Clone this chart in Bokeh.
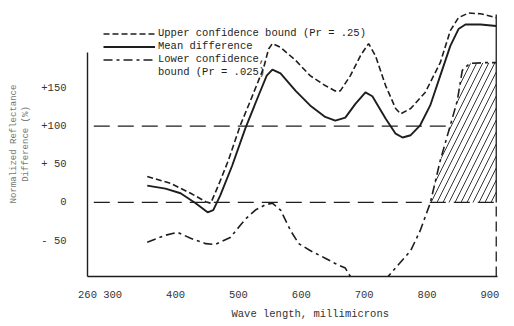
import numpy as np
from bokeh.plotting import figure
from bokeh.models import Legend, LegendItem, FixedTicker, Title
from bokeh.embed import file_html
from bokeh.resources import INLINE

# ---- data ----
mean_x = [355, 384, 408, 432, 451, 460, 471, 490, 511, 532, 545, 554, 567, 591, 614, 638, 654, 670, 686, 702, 713, 734, 750, 761, 774, 789, 805, 821, 837, 850, 861, 885, 910]
mean_y = [22, 18, 12, -1, -13, -10, 9, 48, 97, 140, 166, 174, 169, 146, 127, 112, 107, 111, 129, 144, 139, 110, 90, 85, 88, 101, 127, 166, 205, 227, 233, 233, 231]

upper_x = [355, 392, 424, 448, 456, 468, 484, 503, 519, 540, 548, 554, 567, 591, 614, 638, 654, 662, 678, 694, 707, 718, 734, 750, 758, 774, 797, 821, 837, 850, 866, 885, 910]
upper_y = [34, 25, 12, 1, -1, 22, 55, 101, 133, 176, 201, 208, 203, 186, 166, 153, 146, 146, 166, 192, 208, 192, 153, 123, 116, 123, 144, 183, 225, 242, 248, 247, 242]

lower_x = [355, 384, 403, 424, 448, 463, 487, 503, 511, 527, 543, 554, 567, 583, 596, 614, 638, 654, 670, 678, 700, 725, 737, 774, 789, 805, 821, 837, 848, 856, 868, 892, 910]
lower_y = [-52, -43, -39, -47, -54, -55, -46, -30, -22, -10, -3, -1, -10, -37, -54, -63, -73, -80, -86, -97, -115, -112, -98, -63, -37, -1, 55, 101, 133, 173, 182, 183, 183]

ref_levels = [0, 100]
ref_x_start = 270
ref100_x_end = 837
x_ticks = [260, 300, 400, 500, 600, 700, 800, 900]
y_ticks = [-50, 0, 50, 100, 150]
y_tick_labels = {-50: "- 50", 0: "0", 50: "+ 50", 100: "+100", 150: "+150"}
hatch_from = 805
right_edge = 910

INK = "#1e1e1e"
MONO = "Liberation Mono"

p = figure(width=514, height=326, output_backend="svg", toolbar_location=None,
           x_range=(260, 912), y_range=(-97, 250),
           min_border_left=87, min_border_right=17, min_border_top=11, min_border_bottom=50)
p.outline_line_color = None
p.grid.visible = False
p.background_fill_color = "white"

# hatched region between zero line and lower bound
lx = np.array(lower_x, dtype=float)
ly = np.array(lower_y, dtype=float)
m = lx >= hatch_from
p.varea(x=lx[m], y1=np.zeros(m.sum()), y2=ly[m], fill_color=None, fill_alpha=0,
        hatch_pattern="/", hatch_color=INK, hatch_weight=0.9, hatch_scale=12)

# reference dashed lines
p.line([ref_x_start, right_edge], [ref_levels[0], ref_levels[0]], line_color=INK, line_width=1.3, line_dash="16 8")
p.line([ref_x_start, ref100_x_end], [ref_levels[1], ref_levels[1]], line_color=INK, line_width=1.3, line_dash="16 8")

# right edge
p.line([right_edge, right_edge], [0, 246], line_color=INK, line_width=1.3)
p.line([right_edge, right_edge], [-97, 0], line_color=INK, line_width=1.3, line_dash="10 5")

r_up = p.line(upper_x, upper_y, line_color=INK, line_width=1.6, line_dash="6 3")
r_mean = p.line(mean_x, mean_y, line_color=INK, line_width=1.9)
r_low = p.line(lower_x, lower_y, line_color=INK, line_width=1.6, line_dash="9 4 3 4")
r_blank = p.line(x=[], y=[], line_alpha=0)

legend = Legend(items=[
    LegendItem(label="Upper confidence bound (Pr = .25)", renderers=[r_up]),
    LegendItem(label="Mean difference", renderers=[r_mean]),
    LegendItem(label="Lower confidence,", renderers=[r_low]),
    LegendItem(label="bound (Pr = .025)", renderers=[r_blank]),
], location=(16, 198), orientation="vertical",
    glyph_width=52, glyph_height=11, label_height=11, spacing=1,
    padding=0, margin=0, label_standoff=3,
    label_text_font=MONO, label_text_font_size="10.5px", label_text_color=INK,
    border_line_color=None, background_fill_alpha=0)
p.add_layout(legend, "center")

# axes
p.xaxis.ticker = FixedTicker(ticks=x_ticks)
p.yaxis.ticker = FixedTicker(ticks=y_ticks)
p.yaxis.major_label_overrides = y_tick_labels
for ax in (p.xaxis[0], p.yaxis[0]):
    ax.major_tick_line_color = None
    ax.minor_tick_line_color = None
    ax.axis_line_color = INK
    ax.axis_line_width = 1.4
    ax.major_label_text_font = MONO
    ax.major_label_text_font_size = "10.5px"
    ax.major_label_text_color = "#333333"
p.yaxis.bounds = (-97, 196)
p.xaxis.major_label_standoff = 8
p.yaxis.major_label_standoff = 15
p.yaxis.axis_label = "Normalized Reflectance\nDifference (%)"
p.yaxis.axis_label_text_font = MONO
p.yaxis.axis_label_text_font_size = "9px"
p.yaxis.axis_label_text_font_style = "normal"
p.yaxis.axis_label_text_color = "#777777"
p.yaxis.axis_label_standoff = 7

p.add_layout(Title(text="Wave length, millimicrons", align="left", offset=144,
                   text_font=MONO, text_font_size="10.5px", text_font_style="normal",
                   text_color="#333333", standoff=10), "below")

open("out.html", "w").write(file_html(p, INLINE))
